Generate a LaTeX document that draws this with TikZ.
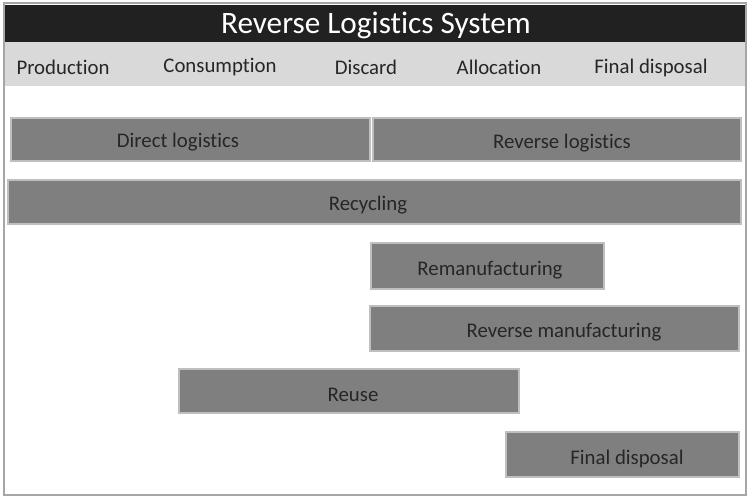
\documentclass[tikz,border=0pt]{standalone}
\usepackage{fontspec}
\setmainfont[Ligatures={NoCommon}]{Carlito}

\definecolor{framegray}{HTML}{A6A6A6}
\definecolor{headfill}{HTML}{D9D9D9}
\definecolor{barfill}{HTML}{7F7F7F}
\definecolor{baredge}{HTML}{BFBFBF}
\definecolor{inkgray}{HTML}{262626}

\begin{document}
\begin{tikzpicture}[x=0.75pt,y=0.75pt,yscale=-1,xscale=1,
  bar/.style={draw=baredge,fill=barfill,line width=1.5},
  lbl/.style={inner sep=0.75pt,text=inkgray,font=\fontsize{15.6}{18}\selectfont},
  head/.style={inner sep=0.75pt,text=inkgray,font=\fontsize{15.6}{18}\selectfont}]
\useasboundingbox (0,0) rectangle (750,500);

%Shape: Rectangle [id:frame] 
\draw [color=framegray, fill=white, line width=1.5]  (4,3) rectangle (746,495) ;
%Shape: Rectangle [id:titlebar] 
\draw [draw=none, fill=black!87]  (5,5) rectangle (745,42) ;
%Shape: Rectangle [id:stagebar] 
\draw [draw=none, fill=headfill]  (5,42) rectangle (745,86) ;

%Shape: Rectangle [id:direct] 
\draw [bar]  (11,118) rectangle (370,161) ;
%Shape: Rectangle [id:reverse] 
\draw [bar]  (373,118) rectangle (741,161) ;
%Shape: Rectangle [id:recycling] 
\draw [bar]  (8,180) rectangle (741,224) ;
%Shape: Rectangle [id:reman] 
\draw [bar]  (371,243) rectangle (604,289) ;
%Shape: Rectangle [id:revman] 
\draw [bar]  (370,306) rectangle (739,351) ;
%Shape: Rectangle [id:reuse] 
\draw [bar]  (179,369) rectangle (519,413) ;
%Shape: Rectangle [id:disposal] 
\draw [bar]  (506,432) rectangle (739,477) ;

% Text Node
\draw (376,25) node (title) [inner sep=0.75pt, text=white, font=\fontsize{23.4}{28}\selectfont]  {Reverse Logistics System};
% Text Node
\draw (63,67.5) node (production) [head]  {Production};
% Text Node
\draw (220,67.5) node (consumption) [head]  {Consumption};
% Text Node
\draw (366,67.5) node (discard) [head]  {Discard};
% Text Node
\draw (499,67.5) node (allocation) [head]  {Allocation};
% Text Node
\draw (651,67.5) node (finaldisp) [head]  {Final disposal};

% Text Node
\draw (178,142) node (directlbl) [lbl]  {Direct logistics};
% Text Node
\draw (562,143) node (reverselbl) [lbl]  {Reverse logistics};
% Text Node
\draw (368,205) node (recyclinglbl) [lbl]  {Recycling};
% Text Node
\draw (490,270) node (remanlbl) [lbl]  {Remanufacturing};
% Text Node
\draw (564,332) node (revmanlbl) [lbl]  {Reverse manufacturing};
% Text Node
\draw (353,395) node (reuselbl) [lbl]  {Reuse};
% Text Node
\draw (627,459) node (disposallbl) [lbl]  {Final disposal};

\end{tikzpicture}
\end{document}
